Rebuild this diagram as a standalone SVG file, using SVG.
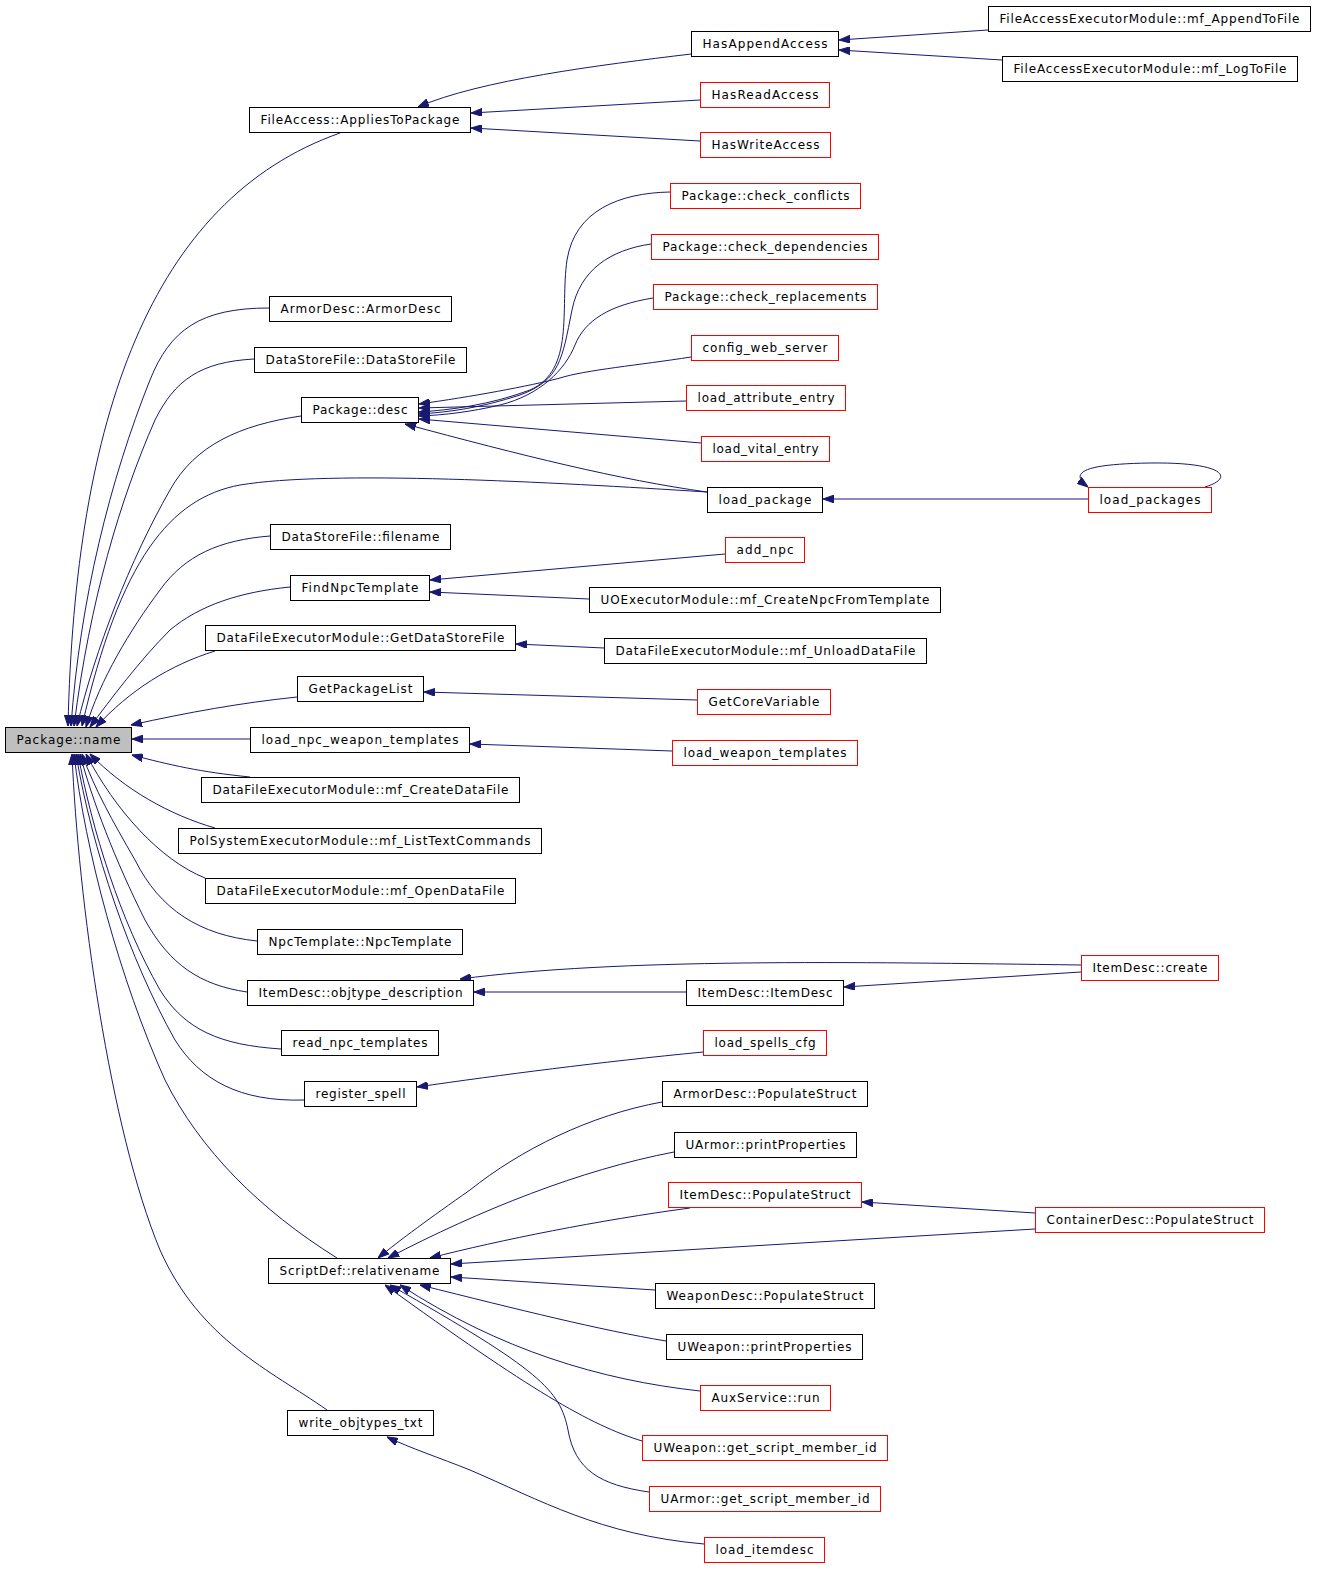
<svg xmlns="http://www.w3.org/2000/svg" width="1317" height="1569" viewBox="0 0 1317 1569">
<style>
rect{fill:#fff;stroke:#000;stroke-width:1}
rect.r{stroke:#f00}
rect.g{fill:#bfbfbf}
text{font-family:"DejaVu Sans","Liberation Sans",sans-serif;font-size:12px;fill:#000;text-anchor:middle}
#edges path{fill:none;stroke:#191970;stroke-width:1;marker-end:url(#ah)}
</style>
<defs>
<marker id="ah" viewBox="0 0 10 7" refX="10" refY="3.5" markerWidth="11" markerHeight="8" markerUnits="userSpaceOnUse" orient="auto">
<path d="M0,0 L10,3.5 L0,7 z" fill="#191970" stroke="#191970"/>
</marker>
</defs>
<rect x="0" y="0" width="1317" height="1569" style="fill:#fff;stroke:none"/>
<g id="edges">
<path d="M340,133 C150,200 75,420 68,726"/>
<path d="M269,308 C200,308 170,330 150,380 C110,480 80,600 71,726"/>
<path d="M254,359 C200,362 175,380 155,420 C120,500 90,600 74,726"/>
<path d="M301,416 C240,425 195,445 170,490 C130,560 95,650 77,726"/>
<path d="M707,492 C550,482 330,470 240,485 C170,498 120,560 82,726"/>
<path d="M270,536 C220,540 185,555 160,590 C130,630 100,680 86,727"/>
<path d="M290,587 C240,592 200,605 170,630 C140,660 110,700 90,727"/>
<path d="M215,651 C170,665 130,690 96,727"/>
<path d="M297,697 C240,703 190,712 131,725"/>
<path d="M250,739 L132,739"/>
<path d="M250,777 C200,772 170,765 132,755"/>
<path d="M215,828 C170,815 125,790 90,754"/>
<path d="M205,878 C160,860 115,810 86,754"/>
<path d="M257,941 C200,935 160,910 135,860 C112,820 95,790 82,754"/>
<path d="M247,992 C200,985 170,965 145,920 C115,860 92,800 80,754"/>
<path d="M281,1049 C220,1045 185,1030 160,990 C120,920 92,830 78,754"/>
<path d="M304,1100 C240,1102 200,1080 175,1040 C130,960 92,850 76,754"/>
<path d="M337,1258 C260,1210 200,1150 165,1080 C120,980 85,850 74,754"/>
<path d="M327,1410 C270,1370 200,1340 160,1250 C110,1130 78,900 72,754"/>
<path d="M691,54 C600,65 480,80 418,107"/>
<path d="M700,100 L471,113"/>
<path d="M700,141 L471,128"/>
<path d="M988,30 L839,40"/>
<path d="M1002,60 L839,50"/>
<path d="M670,192 C620,193 575,210 567,260 C560,310 575,370 530,390 C490,405 450,410 419,412"/>
<path d="M651,244 C610,250 580,270 572,310 C562,360 560,380 520,395 C480,408 450,412 419,414"/>
<path d="M653,298 C610,305 585,320 575,345 C565,370 540,395 500,405 C470,412 445,415 419,416"/>
<path d="M691,357 C640,365 585,370 560,378 C530,386 470,397 419,404"/>
<path d="M686,401 L419,408"/>
<path d="M701,443 L419,419"/>
<path d="M707,492 C620,480 520,455 405,424"/>
<path d="M1088,499 L823,499"/>
<path d="M1205,487 C1235,478 1225,462 1150,463 C1085,464 1068,472 1088,487"/>
<path d="M725,554 L430,580"/>
<path d="M589,599 L430,592"/>
<path d="M604,648 L516,644"/>
<path d="M697,700 L424,692"/>
<path d="M672,751 L470,744"/>
<path d="M1081,965 C850,962 620,958 460,979"/>
<path d="M1081,972 L844,987"/>
<path d="M686,992 L474,992"/>
<path d="M703,1052 C600,1062 500,1075 417,1087"/>
<path d="M1035,1213 L862,1202"/>
<path d="M1035,1229 L451,1264"/>
<path d="M662,1102 C590,1115 520,1150 470,1190 C430,1218 400,1240 378,1258"/>
<path d="M674,1152 C580,1170 480,1210 388,1258"/>
<path d="M690,1208 C600,1220 500,1240 430,1258"/>
<path d="M655,1290 L451,1277"/>
<path d="M666,1341 C600,1330 520,1310 420,1285"/>
<path d="M700,1391 C600,1380 500,1350 400,1285"/>
<path d="M642,1441 C590,1425 530,1390 385,1285"/>
<path d="M649,1492 C600,1485 575,1470 568,1430 C560,1390 540,1370 390,1285"/>
<path d="M704,1544 C600,1535 540,1500 470,1470 C440,1458 410,1448 387,1437"/>
</g>
<g id="n0"><rect class="g" x="5.5" y="727.5" width="126" height="25"/><text x="68.5" y="744" textLength="104">Package::name</text></g>
<g id="n1"><rect x="249.5" y="107.5" width="221" height="25"/><text x="360" y="124" textLength="199">FileAccess::AppliesToPackage</text></g>
<g id="n2"><rect x="691.5" y="31.5" width="147" height="25"/><text x="765" y="48" textLength="125">HasAppendAccess</text></g>
<g id="n3"><rect class="r" x="700.5" y="82.5" width="129" height="25"/><text x="765" y="99" textLength="107">HasReadAccess</text></g>
<g id="n4"><rect class="r" x="700.5" y="132.5" width="130" height="25"/><text x="765.5" y="149" textLength="108">HasWriteAccess</text></g>
<g id="n5"><rect x="988.5" y="6.5" width="322" height="25"/><text x="1149.5" y="23" textLength="300">FileAccessExecutorModule::mf_AppendToFile</text></g>
<g id="n6"><rect x="1002.5" y="56.5" width="295" height="25"/><text x="1150" y="73" textLength="273">FileAccessExecutorModule::mf_LogToFile</text></g>
<g id="n7"><rect x="269.5" y="296.5" width="182" height="25"/><text x="360.5" y="313" textLength="160">ArmorDesc::ArmorDesc</text></g>
<g id="n8"><rect x="254.5" y="347.5" width="212" height="25"/><text x="360.5" y="364" textLength="190">DataStoreFile::DataStoreFile</text></g>
<g id="n9"><rect x="301.5" y="397.5" width="117" height="25"/><text x="360" y="414" textLength="95">Package::desc</text></g>
<g id="n10"><rect class="r" x="670.5" y="183.5" width="190" height="25"/><text x="765.5" y="200" textLength="168">Package::check_conflicts</text></g>
<g id="n11"><rect class="r" x="651.5" y="234.5" width="227" height="25"/><text x="765" y="251" textLength="205">Package::check_dependencies</text></g>
<g id="n12"><rect class="r" x="653.5" y="284.5" width="224" height="25"/><text x="765.5" y="301" textLength="202">Package::check_replacements</text></g>
<g id="n13"><rect class="r" x="691.5" y="335.5" width="147" height="25"/><text x="765" y="352" textLength="125">config_web_server</text></g>
<g id="n14"><rect class="r" x="686.5" y="385.5" width="159" height="25"/><text x="766" y="402" textLength="137">load_attribute_entry</text></g>
<g id="n15"><rect class="r" x="701.5" y="436.5" width="128" height="25"/><text x="765.5" y="453" textLength="106">load_vital_entry</text></g>
<g id="n16"><rect x="707.5" y="487.5" width="115" height="25"/><text x="765" y="504" textLength="93">load_package</text></g>
<g id="n17"><rect class="r" x="1088.5" y="487.5" width="123" height="25"/><text x="1150" y="504" textLength="101">load_packages</text></g>
<g id="n18"><rect x="270.5" y="524.5" width="180" height="25"/><text x="360.5" y="541" textLength="158">DataStoreFile::filename</text></g>
<g id="n19"><rect class="r" x="725.5" y="537.5" width="79" height="25"/><text x="765" y="554" textLength="57">add_npc</text></g>
<g id="n20"><rect x="290.5" y="575.5" width="139" height="25"/><text x="360" y="592" textLength="117">FindNpcTemplate</text></g>
<g id="n21"><rect x="589.5" y="587.5" width="351" height="25"/><text x="765" y="604" textLength="329">UOExecutorModule::mf_CreateNpcFromTemplate</text></g>
<g id="n22"><rect x="205.5" y="625.5" width="310" height="25"/><text x="360.5" y="642" textLength="288">DataFileExecutorModule::GetDataStoreFile</text></g>
<g id="n23"><rect x="604.5" y="638.5" width="322" height="25"/><text x="765.5" y="655" textLength="300">DataFileExecutorModule::mf_UnloadDataFile</text></g>
<g id="n24"><rect x="297.5" y="676.5" width="126" height="25"/><text x="360.5" y="693" textLength="104">GetPackageList</text></g>
<g id="n25"><rect class="r" x="697.5" y="689.5" width="133" height="25"/><text x="764" y="706" textLength="111">GetCoreVariable</text></g>
<g id="n26"><rect x="250.5" y="727.5" width="219" height="25"/><text x="360" y="744" textLength="197">load_npc_weapon_templates</text></g>
<g id="n27"><rect class="r" x="672.5" y="740.5" width="185" height="25"/><text x="765" y="757" textLength="163">load_weapon_templates</text></g>
<g id="n28"><rect x="201.5" y="777.5" width="318" height="25"/><text x="360.5" y="794" textLength="296">DataFileExecutorModule::mf_CreateDataFile</text></g>
<g id="n29"><rect x="178.5" y="828.5" width="363" height="25"/><text x="360" y="845" textLength="341">PolSystemExecutorModule::mf_ListTextCommands</text></g>
<g id="n30"><rect x="205.5" y="878.5" width="310" height="25"/><text x="360.5" y="895" textLength="288">DataFileExecutorModule::mf_OpenDataFile</text></g>
<g id="n31"><rect x="257.5" y="929.5" width="205" height="25"/><text x="360" y="946" textLength="183">NpcTemplate::NpcTemplate</text></g>
<g id="n32"><rect x="247.5" y="980.5" width="226" height="25"/><text x="360.5" y="997" textLength="204">ItemDesc::objtype_description</text></g>
<g id="n33"><rect class="r" x="1081.5" y="955.5" width="137" height="25"/><text x="1150" y="972" textLength="115">ItemDesc::create</text></g>
<g id="n34"><rect x="686.5" y="980.5" width="157" height="25"/><text x="765" y="997" textLength="135">ItemDesc::ItemDesc</text></g>
<g id="n35"><rect x="281.5" y="1030.5" width="157" height="25"/><text x="360" y="1047" textLength="135">read_npc_templates</text></g>
<g id="n36"><rect class="r" x="703.5" y="1030.5" width="123" height="25"/><text x="765" y="1047" textLength="101">load_spells_cfg</text></g>
<g id="n37"><rect x="304.5" y="1081.5" width="112" height="25"/><text x="360.5" y="1098" textLength="90">register_spell</text></g>
<g id="n38"><rect x="662.5" y="1081.5" width="205" height="25"/><text x="765" y="1098" textLength="183">ArmorDesc::PopulateStruct</text></g>
<g id="n39"><rect x="674.5" y="1132.5" width="182" height="25"/><text x="765.5" y="1149" textLength="160">UArmor::printProperties</text></g>
<g id="n40"><rect class="r" x="668.5" y="1182.5" width="193" height="25"/><text x="765" y="1199" textLength="171">ItemDesc::PopulateStruct</text></g>
<g id="n41"><rect class="r" x="1035.5" y="1207.5" width="229" height="25"/><text x="1150" y="1224" textLength="207">ContainerDesc::PopulateStruct</text></g>
<g id="n42"><rect x="268.5" y="1258.5" width="182" height="25"/><text x="359.5" y="1275" textLength="160">ScriptDef::relativename</text></g>
<g id="n43"><rect x="655.5" y="1283.5" width="219" height="25"/><text x="765" y="1300" textLength="197">WeaponDesc::PopulateStruct</text></g>
<g id="n44"><rect x="666.5" y="1334.5" width="196" height="25"/><text x="764.5" y="1351" textLength="174">UWeapon::printProperties</text></g>
<g id="n45"><rect class="r" x="700.5" y="1385.5" width="130" height="25"/><text x="765.5" y="1402" textLength="108">AuxService::run</text></g>
<g id="n46"><rect class="r" x="642.5" y="1435.5" width="245" height="25"/><text x="765" y="1452" textLength="223">UWeapon::get_script_member_id</text></g>
<g id="n47"><rect class="r" x="649.5" y="1486.5" width="231" height="25"/><text x="765" y="1503" textLength="209">UArmor::get_script_member_id</text></g>
<g id="n48"><rect x="287.5" y="1410.5" width="146" height="25"/><text x="360.5" y="1427" textLength="124">write_objtypes_txt</text></g>
<g id="n49"><rect class="r" x="704.5" y="1537.5" width="120" height="25"/><text x="764.5" y="1554" textLength="98">load_itemdesc</text></g>
</svg>
